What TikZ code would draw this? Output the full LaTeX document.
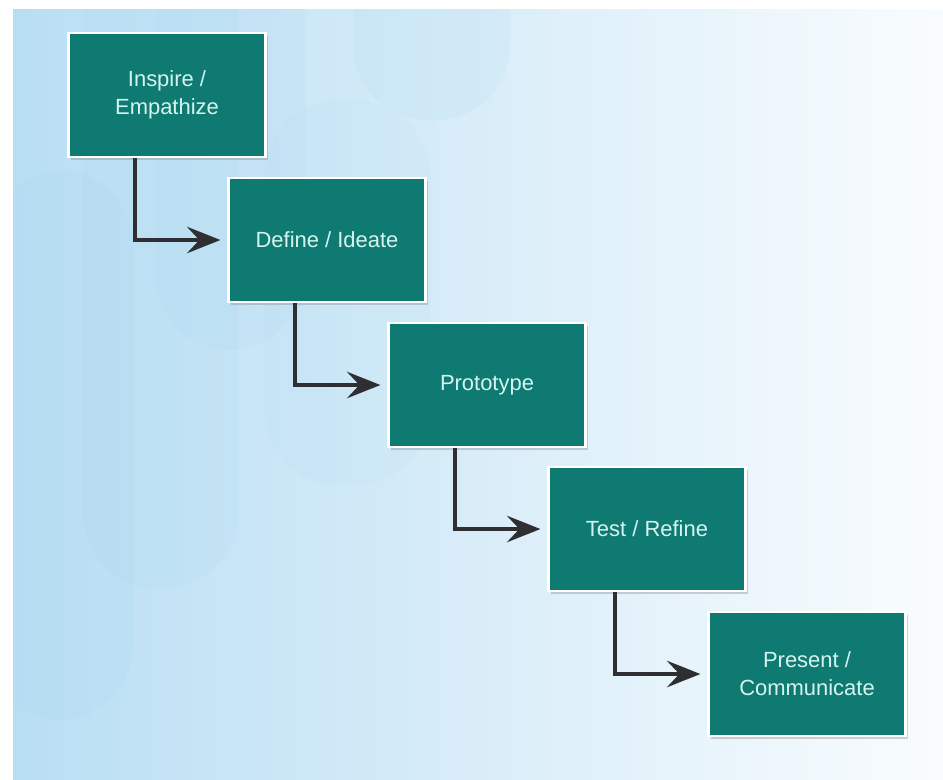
\documentclass[tikz,border=0pt]{standalone}
\usepackage{fontspec}
\setmainfont{Liberation Sans}
\usetikzlibrary{arrows.meta,shadows}
\definecolor{stagefill}{HTML}{0E7A72}
\definecolor{stagetext}{HTML}{D6F4EE}
\definecolor{flowline}{HTML}{2E2E33}
\definecolor{bgblue}{HTML}{B8DEF3}
\definecolor{bgpale}{HTML}{F9FCFE}
\definecolor{bubble}{HTML}{A6D4EE}
\begin{document}
\begin{tikzpicture}[x=0.02cm, y=-0.02cm,
		stage/.style={draw=white, line width=1.2pt, fill=stagefill, text=stagetext, minimum width=3.94cm, minimum height=2.48cm, align=center, font=\fontsize{12.5}{16}\selectfont, drop shadow={shadow xshift=1.2pt, shadow yshift=-1.5pt, opacity=0.35}},
		flow/.style={draw=flowline, line width=2.4pt, -{Stealth[length=19pt, width=15pt, inset=7pt]}, shorten >=4pt},
		bubblefill/.style={fill=bubble, fill opacity=0.12, rounded corners=1.5cm}]
		\useasboundingbox (0,0) rectangle (943,779);
		\shade[left color=bgblue, right color=bgpale] (13,9) rectangle (943,779);
		
		\begin{scope}
			\clip (13,9) rectangle (943,779);
			\fill[bubblefill] (-10,170) rectangle (133,720);
			\fill[bubblefill] (83,-100) rectangle (238,588);
			\fill[bubblefill] (155,-50) rectangle (305,350);
			\fill[bubblefill] (353,-100) rectangle (510,120);
			\fill[bubblefill, fill opacity=0.08] (265,100) rectangle (430,485);
		\end{scope}
		
		\node[stage] (inspire) at (167,95) {Inspire /\\Empathize};
		\node[stage] (define) at (327,240) {Define / Ideate};
		\node[stage] (prototype) at (487,385) {Prototype};
		\node[stage] (test) at (647,529) {Test / Refine};
		\node[stage] (present) at (807,674) {Present /\\Communicate};
		
		\draw[flow] ([xshift=-0.64cm]inspire.south) |- (define);
		\draw[flow] ([xshift=-0.64cm]define.south) |- (prototype);
		\draw[flow] ([xshift=-0.64cm]prototype.south) |- (test);
		\draw[flow] ([xshift=-0.64cm]test.south) |- (present);
	\end{tikzpicture}
\end{document}
